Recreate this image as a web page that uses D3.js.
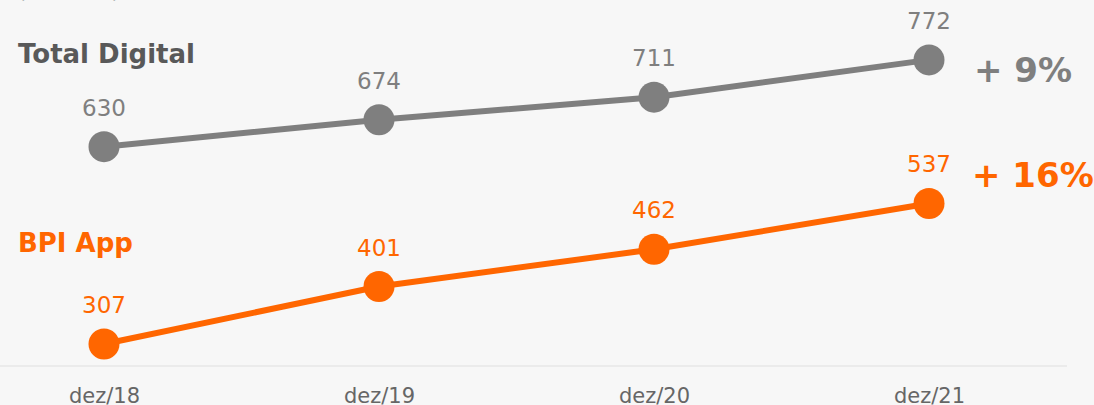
<!DOCTYPE html>
<html>
  <head>
    <meta charset="utf-8">
    <title>Digital clients</title>
    <script src="https://d3js.org/d3.v7.min.js"></script>
    <style>
      body { margin: 0; background: #f7f7f7; }
      svg { display: block; font-family: "DejaVu Sans", Verdana, sans-serif; }
    </style>
  </head>
  <body>
    <div id="chart"></div>
    <script>
      var periods = ["dez/18", "dez/19", "dez/20", "dez/21"];
      var totalDigital = [630, 674, 711, 772];
      var bpiApp = [307, 401, 462, 537];
      var growth = ["+ 9%", "+ 16%"];

      var width = 1094, height = 405;
      var gray = "#7f7f7f", orange = "#ff6600";

      var svg = d3.select("#chart").append("svg")
        .attr("width", width)
        .attr("height", height)
        .style("background", "#f7f7f7");

      var x = d3.scalePoint().domain(periods).range([104, 929]);
      var y = d3.scaleLinear().domain([271, 870]).range([366, 0]);

      // unit note, cut off at the top
      svg.append("text").attr("x", 18).attr("y", -2)
        .attr("font-size", 20).attr("fill", "#7f7f7f").text("(milhares)");

      // baseline
      svg.append("line")
        .attr("x1", 0).attr("x2", 1067)
        .attr("y1", 366).attr("y2", 366)
        .attr("stroke", "#ebebeb").attr("stroke-width", 2);

      // x axis labels
      var xAxis = d3.axisBottom(x).tickSize(0).tickPadding(0);
      var ax = svg.append("g").attr("transform", "translate(0,388)").call(xAxis);
      ax.select(".domain").remove();
      ax.selectAll("text")
        .attr("font-size", 21)
        .attr("font-family", "DejaVu Sans, Verdana, sans-serif")
        .attr("fill", "#666")
        .attr("dy", "0.71em")
        .attr("y", 0);

      var series = [
        {name: "Total Digital", values: totalDigital, color: gray, label: "#595959", ly: 63, growth: growth[0], gx: 974, gy: 82},
        {name: "BPI App", values: bpiApp, color: orange, label: orange, ly: 252, growth: growth[1], gx: 972, gy: 187}
      ];

      var line = d3.line()
        .x(function(d, i) { return x(periods[i]); })
        .y(function(d) { return y(d); });

      series.forEach(function(s) {
        svg.append("path")
          .datum(s.values)
          .attr("d", line)
          .attr("fill", "none")
          .attr("stroke", s.color)
          .attr("stroke-width", 6);

        svg.selectAll(null)
          .data(s.values)
          .enter()
          .append("circle")
            .attr("cx", function(d, i) { return x(periods[i]); })
            .attr("cy", function(d) { return y(d); })
            .attr("r", 15.5)
            .attr("fill", s.color);

        svg.selectAll(null)
          .data(s.values)
          .enter()
          .append("text")
            .attr("x", function(d, i) { return x(periods[i]); })
            .attr("y", function(d) { return y(d) - 31; })
            .attr("text-anchor", "middle")
            .attr("font-size", 23)
            .attr("fill", s.color)
            .text(function(d) { return d; });

        svg.append("text")
          .attr("x", 18).attr("y", s.ly)
          .attr("font-size", 26).attr("font-weight", "bold")
          .attr("fill", s.label)
          .text(s.name);

        svg.append("text")
          .attr("x", s.gx).attr("y", s.gy)
          .attr("font-size", 34).attr("font-weight", "bold")
          .attr("fill", s.color)
          .text(s.growth);
      });
    </script>
  </body>
</html>
